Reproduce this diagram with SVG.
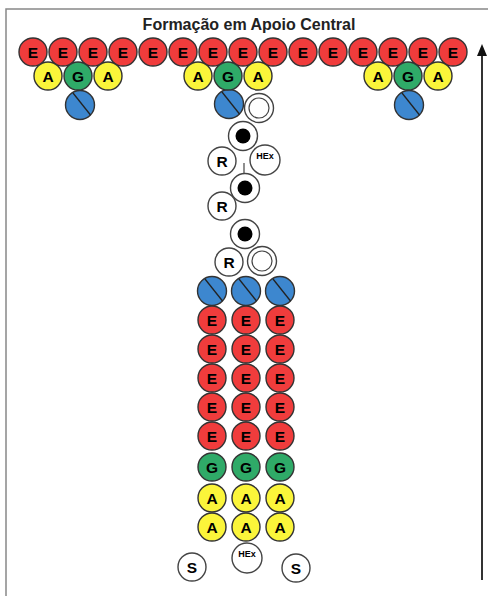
<svg xmlns="http://www.w3.org/2000/svg" width="488" height="596" viewBox="0 0 488 596">
<defs>
<style>
.e{fill:#f03c3c;stroke:#333;stroke-width:1.4}
.a{fill:#fbf53a;stroke:#333;stroke-width:1.4}
.g{fill:#2faa68;stroke:#333;stroke-width:1.4}
.b{fill:#3d87cf;stroke:#333;stroke-width:1.4}
.w{fill:#fff;stroke:#444;stroke-width:1.4}
.ring{fill:none;stroke:#444;stroke-width:1.2}
.dot{fill:#000}
.sl{stroke:#222;stroke-width:1.3}
.t{font-family:"Liberation Sans",Arial,sans-serif;font-weight:bold;font-size:15.5px;fill:#000;text-anchor:middle;dominant-baseline:central}
.h{font-family:"Liberation Sans",Arial,sans-serif;font-weight:bold;font-size:9px;fill:#000;text-anchor:middle;dominant-baseline:central}
.title{font-family:"Liberation Sans",Arial,sans-serif;font-weight:bold;font-size:16px;fill:#222;text-anchor:middle}
.frame{stroke:#888;stroke-width:1.5;fill:none}
</style>
<symbol id="E" overflow="visible"><circle class="e" r="14"/><text class="t" y="0.5">E</text></symbol>
<symbol id="A" overflow="visible"><circle class="a" r="14"/><text class="t" y="0.5">A</text></symbol>
<symbol id="G" overflow="visible"><circle class="g" r="14"/><text class="t" y="0.5">G</text></symbol>
<symbol id="B" overflow="visible"><circle class="b" r="14.5"/><line class="sl" x1="-7" y1="-12" x2="10.5" y2="10"/></symbol>
<symbol id="R" overflow="visible"><circle class="w" r="14"/><text class="t" y="0.5">R</text></symbol>
<symbol id="S" overflow="visible"><circle class="w" r="14"/><text class="t" y="0.5">S</text></symbol>
<symbol id="H" overflow="visible"><circle class="w" r="15"/><text class="h" y="-4">HEx</text></symbol>
<symbol id="D" overflow="visible"><circle class="w" r="14.5"/><circle class="dot" r="7.5"/></symbol>
<symbol id="O" overflow="visible"><circle class="w" r="14.5"/><circle class="ring" r="10"/></symbol>
</defs>
<rect width="488" height="596" fill="#fff"/>
<path class="frame" d="M6,596 V9 H488"/>
<text class="title" x="249" y="30">Formação em Apoio Central</text>

<g id="arrow">
<line x1="482" y1="580" x2="482" y2="54" stroke="#333" stroke-width="2"/>
<polygon points="482,44 477,56 487,56" fill="#111"/>
</g>

<g id="connectors">
<line x1="244" y1="163" x2="244" y2="177" stroke="#444" stroke-width="1.2"/>
</g>

<g id="top-row">
<use href="#E" x="33" y="52"/><use href="#E" x="63" y="52"/><use href="#E" x="93" y="52"/><use href="#E" x="123" y="52"/><use href="#E" x="153" y="52"/><use href="#E" x="183" y="52"/><use href="#E" x="213" y="52"/><use href="#E" x="243" y="52"/><use href="#E" x="273" y="52"/><use href="#E" x="303" y="52"/><use href="#E" x="333" y="52"/><use href="#E" x="363" y="52"/><use href="#E" x="393" y="52"/><use href="#E" x="423" y="52"/><use href="#E" x="453" y="52"/>
</g>
<g id="left-group">
<use href="#B" x="80" y="105"/>
<use href="#A" x="48" y="76"/><use href="#G" x="78" y="76"/><use href="#A" x="108" y="76"/>
</g>
<g id="mid-group">
<use href="#B" x="229" y="104"/>
<use href="#O" x="259" y="108"/>
<use href="#A" x="198" y="76"/><use href="#G" x="228" y="76"/><use href="#A" x="258" y="76"/>
</g>
<g id="right-group">
<use href="#B" x="409" y="105"/>
<use href="#A" x="378" y="76"/><use href="#G" x="408" y="76"/><use href="#A" x="438" y="76"/>
</g>

<g id="chain">
<use href="#D" x="243" y="136"/>
<use href="#R" x="222" y="161"/>
<use href="#H" x="265" y="160"/>
<use href="#D" x="245" y="188"/>
<use href="#R" x="222" y="206"/>
<use href="#D" x="245" y="234"/>
<use href="#R" x="229" y="262"/>
<use href="#O" x="262" y="261"/>
</g>

<g id="column">
<use href="#B" x="212" y="291"/><use href="#B" x="246" y="291"/><use href="#B" x="280" y="291"/>
<use href="#E" x="212" y="320"/><use href="#E" x="246" y="320"/><use href="#E" x="280" y="320"/>
<use href="#E" x="212" y="349"/><use href="#E" x="246" y="349"/><use href="#E" x="280" y="349"/>
<use href="#E" x="212" y="378"/><use href="#E" x="246" y="378"/><use href="#E" x="280" y="378"/>
<use href="#E" x="212" y="407"/><use href="#E" x="246" y="407"/><use href="#E" x="280" y="407"/>
<use href="#E" x="212" y="436"/><use href="#E" x="246" y="436"/><use href="#E" x="280" y="436"/>
<use href="#G" x="212" y="467"/><use href="#G" x="246" y="467"/><use href="#G" x="280" y="467"/>
<use href="#A" x="212" y="498"/><use href="#A" x="246" y="498"/><use href="#A" x="280" y="498"/>
<use href="#A" x="212" y="527"/><use href="#A" x="246" y="527"/><use href="#A" x="280" y="527"/>
</g>

<g id="bottom">
<use href="#S" x="192" y="567"/>
<use href="#H" x="247" y="558"/>
<use href="#S" x="296" y="568"/>
</g>
</svg>
